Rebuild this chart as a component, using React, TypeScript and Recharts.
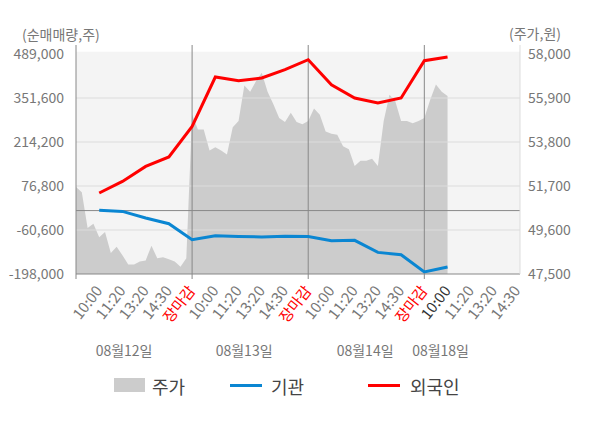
import React from 'react';
import { ComposedChart, Area, Line, XAxis, YAxis, CartesianGrid, ReferenceLine, ReferenceArea } from 'recharts';

// x-axis slot labels (5 per trading day)
const slotLabels = [
  '', '10:00', '11:20', '13:20', '14:30',
  '장마감', '10:00', '11:20', '13:20', '14:30',
  '장마감', '10:00', '11:20', '13:20', '14:30',
  '장마감', '10:00', '11:20', '13:20', '14:30',
];
const dateLabels = ['08월12일', '08월13일', '08월14일', '08월18일'];
const dateTickPos = [2.07, 7.24, 12.45, 15.7];

const leftTicks = [-198000, -60600, 76800, 214200, 351600, 489000];
const rightTicks = [47500, 49600, 51700, 53800, 55900, 58000];

// net buying volume at slots 1..16
const foreignNet = [55000, 91000, 138000, 167400, 262900, 417200, 405600, 414000, 440000, 471200, 393100, 351600, 336000, 351600, 468000, 479600];
const instNet = [1000, -2500, -23100, -40900, -90900, -78400, -80600, -82500, -80000, -80600, -94000, -93000, -130500, -137700, -191700, -176100];

// intraday price, sampled every quarter slot
const priceAug12 = [51650, 51400, 49700, 49900, 49250, 49500, 48500, 48800, 48400, 47950, 47950, 48100, 48150, 48850, 48250, 48300, 48200, 48100, 47850, 48250];
const priceAug13 = [55100, 54400, 54400, 53400, 53550, 53400, 53200, 54500, 54800, 56500, 56200, 56700, 57100, 56200, 55600, 54950, 54750, 55200, 54750, 54650];
const priceAug14 = [54800, 55400, 55100, 54300, 54200, 54150, 53600, 53450, 52650, 52900, 52900, 53000, 52650, 54800, 56050, 55750, 54800, 54800, 54700, 54800];
const priceAug18 = [54950, 55800, 56550, 56200, 56000];

const SLOTS_PER_DAY = 5;
const STEP = 0.25;

const rows: any[] = [];
[priceAug12, priceAug13, priceAug14, priceAug18].forEach((day, d) => {
  day.forEach((p, i) => {
    const x = d * SLOTS_PER_DAY + i * STEP;
    const isSlot = Number.isInteger(x) && x >= 1 && x <= foreignNet.length;
    rows.push({
      x,
      price: p,
      foreign: isSlot ? foreignNet[x - 1] : null,
      inst: isSlot ? instNet[x - 1] : null,
    });
  });
});

const slotTicks = slotLabels.map((_, i) => i);
const FONT = "'Noto Sans CJK KR', 'Noto Sans', sans-serif";

// plot area reaches a little above the top tick, like the original
const LEFT_TOP = 517100;
const RIGHT_TOP = 58430;
const BG_TOP = 496200;

const TimeTick = ({ x, y, payload }: any) => {
  const i = payload.value;
  const label = slotLabels[i];
  const color = label === '장마감' ? '#ff0000' : i === 16 ? '#333333' : '#777777';
  const ax = x + 4;
  const ay = y + 17;
  return (
    <g>
      {i % SLOTS_PER_DAY === 0 && <line x1={x} x2={x} y1={y} y2={y + 5} stroke="#888888" />}
      {label && (
        <text x={ax} y={ay} transform={`rotate(-52, ${ax}, ${ay})`} textAnchor="end" fill={color} fontSize={15}>
          {label}
        </text>
      )}
    </g>
  );
};

const fmt = (v: number) => v.toLocaleString('en-US');

export default function App() {
  return (
    <div style={{ position: 'relative', width: 600, height: 428, fontFamily: FONT, background: '#fff' }}>
      <style>{'body{margin:0}'}</style>
      <div style={{ position: 'absolute', left: 22, top: 24, fontSize: 14, color: '#777' }}>(순매매량,주)</div>
      <div style={{ position: 'absolute', left: 509, top: 23, fontSize: 14, color: '#777' }}>(주가,원)</div>
      <ComposedChart width={600} height={428} data={rows} margin={{ top: 45, right: 10, left: 16, bottom: 62 }}>
        <CartesianGrid yAxisId="left" horizontal={false} vertical={false} fill="#f4f4f4" />
        <XAxis
          dataKey="x"
          type="number"
          domain={[0, 19.12]}
          ticks={slotTicks}
          interval={0}
          tick={<TimeTick />}
          tickLine={false}
          tickSize={0}
          tickMargin={0}
          height={64}
          axisLine={{ stroke: '#888888' }}
        />
        <XAxis
          xAxisId="date"
          dataKey="x"
          type="number"
          domain={[0, 19.12]}
          ticks={dateTickPos}
          interval={0}
          tickFormatter={(v: number) => dateLabels[dateTickPos.indexOf(v)]}
          tick={{ fill: '#777777', fontSize: 14 }}
          tickLine={false}
          axisLine={false}
          height={28}
        />
        <YAxis
          yAxisId="left"
          domain={[-198000, LEFT_TOP]}
          ticks={leftTicks}
          interval={0}
          width={60}
          tickLine={false}
          tickSize={6}
          tickMargin={6}
          tickFormatter={fmt}
          tick={{ fill: '#777777', fontSize: 14 }}
          axisLine={{ stroke: '#888888' }}
        />
        <YAxis
          yAxisId="right"
          orientation="right"
          domain={[47500, RIGHT_TOP]}
          ticks={rightTicks}
          interval={0}
          width={70}
          tickLine={false}
          tickFormatter={fmt}
          tick={{ fill: '#777777', fontSize: 14 }}
          axisLine={{ stroke: '#dddddd' }}
        />
        <ReferenceArea yAxisId="left" y1={BG_TOP} y2={LEFT_TOP} fill="#ffffff" fillOpacity={1} stroke="none" />
        <Area
          yAxisId="right"
          dataKey="price"
          type="linear"
          fill="#cccccc"
          fillOpacity={1}
          stroke="none"
          isAnimationActive={false}
        />
        {leftTicks.slice(1, 5).map((v) => (
          <ReferenceLine key={v} yAxisId="left" y={v} stroke="#dddddd" />
        ))}
        <ReferenceLine yAxisId="left" y={0} stroke="#888888" />
        {[5, 10, 15].map((v) => (
          <ReferenceLine key={v} yAxisId="left" x={v} stroke="#888888" />
        ))}
        <Line yAxisId="left" dataKey="inst" type="linear" stroke="#0a86d2" strokeWidth={3} dot={false} connectNulls isAnimationActive={false} />
        <Line yAxisId="left" dataKey="foreign" type="linear" stroke="#ff0000" strokeWidth={3} dot={false} connectNulls isAnimationActive={false} />
      </ComposedChart>
      <div style={{ position: 'absolute', top: 375, left: 0, width: 600, height: 20, fontSize: 18, color: '#444' }}>
        <div style={{ position: 'absolute', left: 114, top: 3, width: 31, height: 14, background: '#cccccc' }} />
        <div style={{ position: 'absolute', left: 152, top: -2 }}>주가</div>
        <div style={{ position: 'absolute', left: 230, top: 9, width: 32, height: 3, background: '#0a86d2' }} />
        <div style={{ position: 'absolute', left: 271, top: -2 }}>기관</div>
        <div style={{ position: 'absolute', left: 368, top: 9, width: 32, height: 3, background: '#ff0000' }} />
        <div style={{ position: 'absolute', left: 410, top: -2 }}>외국인</div>
      </div>
    </div>
  );
}
